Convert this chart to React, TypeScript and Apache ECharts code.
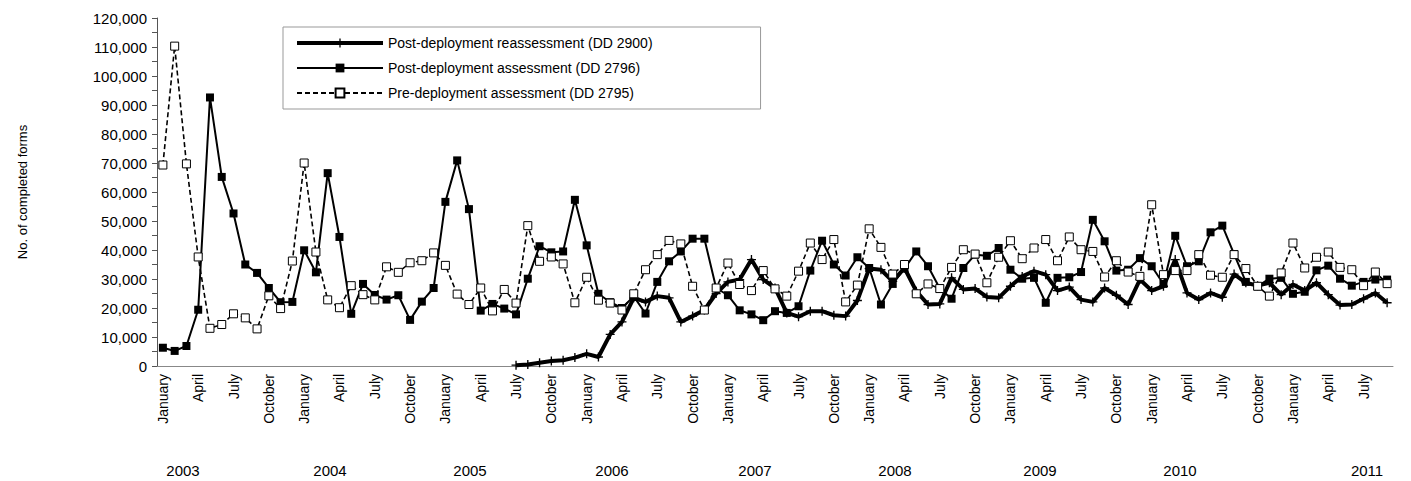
import { useEffect, useRef } from "react";
import * as echarts from "echarts";

// ── Data (thousands of forms, monthly Jan 2003 – Sep 2011) ────────────────────
const MONTHS = ["January", "February", "March", "April", "May", "June", "July", "August", "September", "October", "November", "December"];
const CATEGORIES: string[] = [];
for (let y = 2003; y <= 2011; y++) for (let m = 0; m < 12; m++) if (y < 2011 || m < 9) CATEGORIES.push(`${MONTHS[m]} ${y}`);

const YEARS = ["2003", "2004", "2005", "2006", "2007", "2008", "2009", "2010", "2011"];
const YEAR_X = [175, 322, 462, 604, 747, 887, 1032, 1172, 1359];

const REASSESS = [
  null, null, null, null, null, null, null, null, null, null, null, null,
  null, null, null, null, null, null, null, null, null, null, null, null,
  null, null, null, null, null, null, 0.3, 0.5, 1.1, 1.7, 2.0, 2.9,
  4.2, 3.1, 10.9, 15.2, 23.5, 22.1, 24.1, 23.5, 15.2, 17.2, 19.3, 25.0,
  29.0, 29.8, 36.7, 29.8, 26.9, 18.3, 17.0, 18.9, 18.9, 17.5, 17.2, 22.6,
  33.6, 33.2, 29.2, 33.8, 25.8, 21.2, 21.4, 30.4, 26.4, 26.7, 23.8, 23.5,
  27.5, 30.9, 32.7, 31.5, 26.0, 27.2, 22.9, 22.1, 26.9, 24.4, 21.2, 29.8,
  26.0, 27.5, 36.7, 25.2, 22.9, 25.2, 23.7, 31.7, 28.7, 27.7, 28.7, 24.6,
  28.1, 26.0, 28.7, 24.6, 21.0, 21.2, 23.2, 25.2, 21.8,
];
const POST = [
  6.3, 5.2, 6.9, 19.4, 92.6, 65.2, 52.6, 35.0, 32.1, 26.9, 22.0, 22.1,
  39.9, 32.3, 66.5, 44.5, 18.0, 28.3, 24.5, 22.9, 24.4, 15.9, 22.2, 26.9,
  56.6, 70.9, 54.1, 19.1, 21.4, 19.8, 17.8, 30.1, 41.3, 39.2, 39.5, 57.3,
  41.6, 24.9, 22.0, 20.0, 24.0, 18.1, 29.0, 36.1, 39.5, 43.9, 43.9, 26.9,
  24.4, 19.2, 17.8, 15.8, 18.9, 18.3, 20.6, 32.9, 43.2, 35.0, 31.2, 37.5,
  33.8, 21.2, 28.3, 33.6, 39.5, 34.4, 26.7, 23.2, 33.8, 38.4, 38.0, 40.7,
  33.2, 30.1, 30.4, 21.8, 30.4, 30.6, 32.4, 50.4, 43.0, 32.9, 33.2, 37.2,
  34.4, 28.3, 44.9, 34.4, 36.1, 46.1, 48.4, 38.6, 29.0, 27.5, 30.1, 30.4,
  24.9, 25.6, 33.0, 34.6, 30.1, 27.7, 29.0, 29.8, 29.8,
];
const PRE = [
  69.3, 110.3, 69.7, 37.6, 13.0, 14.3, 18.0, 16.6, 12.8, 24.2, 19.8, 36.2,
  70.0, 39.3, 22.8, 20.1, 27.7, 24.6, 22.8, 34.2, 32.3, 35.6, 36.3, 39.0,
  34.7, 24.8, 21.2, 26.9, 19.0, 26.4, 21.7, 48.4, 36.1, 37.6, 35.2, 21.8,
  30.6, 22.7, 21.7, 19.3, 24.9, 33.2, 38.4, 43.3, 42.1, 27.5, 19.3, 26.9,
  35.5, 28.1, 26.0, 32.9, 26.6, 24.1, 32.7, 42.4, 36.7, 43.6, 22.1, 27.9,
  47.3, 40.9, 31.7, 35.0, 24.9, 28.3, 26.7, 34.0, 40.1, 38.6, 28.7, 37.5,
  43.2, 37.0, 40.7, 43.6, 36.3, 44.5, 40.1, 39.5, 30.7, 36.3, 32.4, 30.9,
  55.6, 31.5, 32.9, 32.9, 38.4, 31.3, 30.6, 38.4, 33.6, 27.5, 24.1, 32.1,
  42.4, 33.8, 37.5, 39.3, 34.0, 33.2, 27.7, 32.4, 28.4,
];

const PLUS = "path://M4,0h1.4v4h4v1.4h-4v4h-1.4v-4h-4v-1.4h4z";
const FONT = "Liberation Sans, Arial, sans-serif";
const k = (arr: (number | null)[]) => arr.map((v) => (v == null ? null : Math.round(v * 1000)));

const NAMES = ["Post-deployment reassessment (DD 2900)", "Post-deployment assessment (DD 2796)", "Pre-deployment assessment (DD 2795)"];

export default function App() {
  const ref = useRef<HTMLDivElement>(null);

  useEffect(() => {
    const el = ref.current;
    if (!el) return;
    const chart = echarts.init(el, null, { renderer: "svg" });
    chart.setOption({
      animation: false,
      backgroundColor: "#fff",
      textStyle: { fontFamily: FONT },
      grid: { left: 147, right: 10, top: 10, bottom: 115 },
      legend: {
        orient: "vertical",
        left: 275,
        top: 19,
        padding: [9, 108, 9, 12],
        itemGap: 11,
        itemWidth: 86,
        itemHeight: 11,
        borderColor: "#999",
        borderWidth: 1,
        textStyle: { fontSize: 14, color: "#000", fontFamily: FONT },
        data: [
          { name: NAMES[0], lineStyle: { width: 4 } },
          { name: NAMES[1], lineStyle: { width: 2 } },
          { name: NAMES[2] },
        ],
      },
      xAxis: {
        type: "category",
        data: CATEGORIES,
        boundaryGap: true,
        axisLine: { lineStyle: { color: "#888" } },
        axisTick: { interval: 0, length: 5, lineStyle: { color: "#555" } },
        axisLabel: {
          interval: (i: number) => i % 3 === 0,
          rotate: 90,
          fontSize: 14,
          color: "#000",
          fontFamily: FONT,
          formatter: (v: string) => v.split(" ")[0],
        },
      },
      yAxis: {
        type: "value",
        min: 0,
        max: 120000,
        interval: 10000,
        name: "No. of completed forms",
        nameLocation: "middle",
        nameGap: 128,
        nameTextStyle: { fontSize: 13, color: "#000", fontFamily: FONT },
        axisLine: { show: true, lineStyle: { color: "#555" } },
        axisTick: { show: true, length: 5, lineStyle: { color: "#555" } },
        minorTick: { show: true, splitNumber: 2, length: 5, lineStyle: { color: "#555" } },
        splitLine: { show: false },
        axisLabel: { fontSize: 15, color: "#000", fontFamily: FONT, margin: 10, formatter: (v: number) => v.toLocaleString("en-US") },
      },
      graphic: YEARS.map((y, i) => ({
        type: "text",
        x: YEAR_X[i],
        y: 462,
        style: { text: y, fill: "#000", font: `15px ${FONT}`, textAlign: "center", textVerticalAlign: "middle" },
      })),
      series: [
        {
          name: NAMES[0],
          type: "line",
          data: k(REASSESS),
          symbol: PLUS,
          symbolSize: 9,
          showAllSymbol: true,
          lineStyle: { color: "#000", width: 4 },
          itemStyle: { color: "#000" },
          z: 3,
        },
        {
          name: NAMES[1],
          type: "line",
          data: k(POST),
          symbol: "rect",
          symbolSize: 8,
          showAllSymbol: true,
          lineStyle: { color: "#000", width: 2 },
          itemStyle: { color: "#000" },
          z: 4,
        },
        {
          name: NAMES[2],
          type: "line",
          data: k(PRE),
          symbol: "rect",
          symbolSize: 8,
          showAllSymbol: true,
          lineStyle: { color: "#000", width: 1.6, type: [5, 3] },
          itemStyle: { color: "#fff", borderColor: "#000", borderWidth: 1 },
          z: 5,
        },
      ],
    });
    return () => chart.dispose();
  }, []);

  return <div ref={ref} style={{ width: 1395, height: 473 }} />;
}
